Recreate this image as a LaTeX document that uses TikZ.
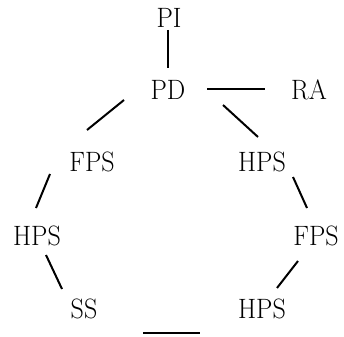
\documentclass[tikz,border=0pt]{standalone}
\usetikzlibrary{calc}
\newcommand{\sq}[1]{\scalebox{0.93}[1]{#1}}
\begin{document}
\begin{tikzpicture}[x=1pt,y=-1pt,
  lbl/.style={font=\fontsize{28}{30}\selectfont, inner sep=0pt, anchor=center},
  conn/.style={line width=2pt}]
\useasboundingbox (0,0) rectangle (344,336);
\node[lbl] (PI) at (169,18) {\sq{PI}};
\node[lbl] (PD) at (168,90) {\sq{PD}};
\node[lbl] (RA) at (309,90) {\sq{RA}};
\node[lbl] (FPSl) at (92,162) {\sq{FPS}};
\node[lbl] (HPSr) at (262,162) {\sq{HPS}};
\node[lbl] (HPSl) at (37,236) {\sq{HPS}};
\node[lbl] (FPSr) at (316,236) {\sq{FPS}};
\node[lbl] (SS) at (84,309) {\sq{SS}};
\node[lbl] (HPSb) at (262,309) {\sq{HPS}};
\coordinate (BL) at (143,333);
\coordinate (BR) at (200,333);
% connectors
\draw[conn] ([shift={(-1,12)}]PI.center) -- ([shift={(0,-22)}]PD.center);
\draw[conn] ([shift={(39,-1)}]PD.center) -- ([shift={(-44,-1)}]RA.center);
\draw[conn] ([shift={(-44,10)}]PD.center) -- ([shift={(-5,-32)}]FPSl.center);
\draw[conn] ([shift={(55,15)}]PD.center) -- ([shift={(-4,-25)}]HPSr.center);
\draw[conn] ([shift={(-42,12)}]FPSl.center) -- ([shift={(-1,-28)}]HPSl.center);
\draw[conn] ([shift={(9,19)}]HPSl.center) -- ([shift={(-22,-20)}]SS.center);
\draw[conn] ([shift={(31,15)}]HPSr.center) -- ([shift={(-9,-28)}]FPSr.center);
\draw[conn] ([shift={(-18,25)}]FPSr.center) -- ([shift={(15,-21)}]HPSb.center);
\draw[conn] (BL) -- (BR);
\end{tikzpicture}
\end{document}
